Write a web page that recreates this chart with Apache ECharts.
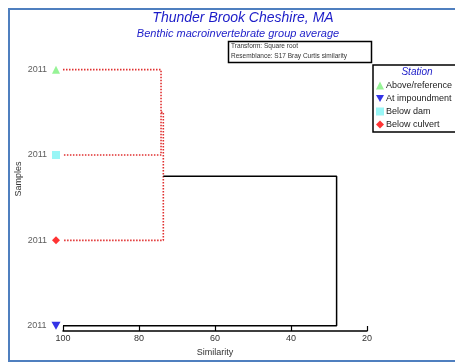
<!DOCTYPE html>
<html>
<head>
<meta charset="utf-8">
<script src="https://cdn.jsdelivr.net/npm/echarts@6/dist/echarts.min.js"></script>
<style>
html,body{margin:0;padding:0;background:#fff;}
#c{width:455px;height:364px;}
</style>
</head>
<body>
<div id="c"></div>
<script>
// Leaves, top to bottom
const leafNames = ["Above/reference", "Below dam", "Below culvert", "At impoundment"];
const leafLabels = ["2011", "2011", "2011", "2011"];
const leafColors = ["#7CF07C", "#80F4F4", "#FF0000", "#0000E0"];
const leafSymbols = ["triangle", "rect", "diamond", "path://M0,0L10,0L5,9Z"];
const legendOrder = ["Above/reference", "At impoundment", "Below dam", "Below culvert"];
// Merges: [childA, childB, similarity]; nodes >= 4 are earlier merges
const mergeA = [0, 4, 5];
const mergeB = [1, 2, 3];
const mergeSim = [74.2, 73.6, 28.0];
const mergeDotted = [true, true, false];
const xTicks = [100, 80, 60, 40, 20];

const nodeY = leafNames.map((_, i) => i);
const nodeS = leafNames.map(() => 100);
const branchSeries = [];
for (let k = 0; k < mergeSim.length; k++) {
  const a = mergeA[k], b = mergeB[k], s = mergeSim[k];
  const pts = [[nodeS[a], nodeY[a]], [s, nodeY[a]], [s, nodeY[b]], [nodeS[b], nodeY[b]]];
  nodeY.push((nodeY[a] + nodeY[b]) / 2);
  nodeS.push(s);
  branchSeries.push({
    type: 'line', data: pts, symbol: 'none', silent: true, z: 2,
    lineStyle: mergeDotted[k]
      ? { color: '#E03030', width: 1.6, type: [1.5, 1.5] }
      : { color: '#000', width: 1.5, type: 'solid' }
  });
}

const leafSeries = leafNames.map((n, i) => ({
  type: 'scatter', name: n,
  data: [[100, i]],
  symbol: leafSymbols[i], symbolSize: i === 3 ? [9, 8] : 8,
  symbolOffset: [-7, 0],
  itemStyle: { color: leafColors[i] },
  label: { show: true, position: 'left', distance: 5, formatter: leafLabels[i],
           fontSize: 9, color: '#333', fontFamily: 'Liberation Sans' },
  z: 5
}));

const chart = echarts.init(document.getElementById('c'), null, { renderer: 'canvas' });
chart.setOption({
  animation: false,
  backgroundColor: '#fff',
  textStyle: { fontFamily: 'Liberation Sans' },
  title: [
    { text: 'Thunder Brook Cheshire, MA', left: 243, top: 11, textAlign: 'center', padding: 0,
      textStyle: { fontSize: 14, fontStyle: 'italic', fontWeight: 'normal', color: '#1C1CC8', fontFamily: 'Liberation Sans' } },
    { text: 'Benthic macroinvertebrate group average', left: 238, top: 28, textAlign: 'center', padding: 0,
      textStyle: { fontSize: 11, fontStyle: 'italic', fontWeight: 'normal', color: '#1C1CC8', fontFamily: 'Liberation Sans' } },
    { text: 'Station', left: 417, top: 67, textAlign: 'center', padding: 0,
      textStyle: { fontSize: 10, fontStyle: 'italic', fontWeight: 'normal', color: '#1C1CC8', fontFamily: 'Liberation Sans' } }
  ],
  graphic: [
    { type: 'rect', shape: { x: 9, y: 9, width: 460, height: 352 }, silent: true,
      style: { fill: 'none', stroke: '#4F7FBF', lineWidth: 2 } },
    { type: 'rect', shape: { x: 228.5, y: 41.5, width: 143, height: 21 }, silent: true,
      style: { fill: '#fff', stroke: '#000', lineWidth: 1.5 } },
    { type: 'text', left: 231, top: 43, silent: true,
      style: { text: 'Transform: Square root', fontSize: 6.5, fill: '#333', fontFamily: 'Liberation Sans' } },
    { type: 'text', left: 231, top: 53, silent: true,
      style: { text: 'Resemblance: S17 Bray Curtis similarity', fontSize: 6.5, fill: '#333', fontFamily: 'Liberation Sans' } }
  ],
  legend: {
    data: legendOrder, orient: 'vertical', left: 373, top: 65,
    padding: [16, 40, 3, 3], itemWidth: 8, itemHeight: 8, itemGap: 4,
    borderColor: '#000', borderWidth: 1.5, backgroundColor: '#fff',
    textStyle: { fontSize: 9, color: '#222', padding: [0, 0, 0, -3] },
    selectedMode: false
  },
  grid: { left: 63, right: 88, top: 27, bottom: 33 },
  xAxis: {
    type: 'value', inverse: true, min: 20, max: 100, interval: 20, position: 'bottom',
    axisLine: { show: true, onZero: false, lineStyle: { color: '#000', width: 1.5 } },
    axisTick: { show: true, inside: true, length: 5, lineStyle: { color: '#000', width: 1.2 } },
    axisLabel: { fontSize: 9, color: '#333', margin: 3 },
    splitLine: { show: false },
    name: 'Similarity', nameLocation: 'middle', nameGap: 17,
    nameTextStyle: { fontSize: 9, color: '#333' }
  },
  yAxis: {
    type: 'value', inverse: true, min: -0.5, max: 3.0625,
    axisLine: { show: false }, axisTick: { show: false }, axisLabel: { show: false },
    splitLine: { show: false },
    name: 'Samples', nameLocation: 'middle', nameGap: 40, nameRotate: 90,
    nameTextStyle: { fontSize: 9, color: '#333' }
  },
  series: branchSeries.concat(leafSeries)
});
</script>
</body>
</html>
